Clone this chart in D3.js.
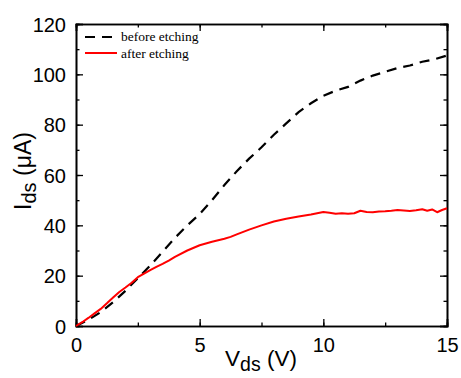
<!DOCTYPE html>
<html><head><meta charset="utf-8">
<script src="https://cdn.jsdelivr.net/npm/d3@7"></script>
<style>body{margin:0;background:#fff}svg{display:block}</style>
</head><body>
<script>
const vBefore = [0,0.5,1,1.5,2,2.5,3,3.5,4,4.5,5,5.5,6,6.5,7,7.5,8,8.5,9,9.5,10,10.5,11,11.5,12,12.5,13,13.5,14,14.5,15];
const iBefore = [0,2.5,5.5,9.5,14,19,24,29.5,35,40,44.5,50,56,61.5,66.5,71,76,80.5,85,88.5,91.5,93.5,95,97.5,99.5,101,102.5,103.5,105,106,107.5];
const vAfter = [0,0.25,0.5,0.75,1,1.25,1.5,1.75,2,2.25,2.5,2.75,3,3.25,3.5,3.75,4,4.5,5,5.5,6,6.25,6.5,7,7.5,8,8.5,9,9.5,10,10.25,10.5,10.75,11,11.25,11.5,11.75,12,12.25,12.5,12.75,13,13.25,13.5,13.75,14,14.2,14.4,14.6,14.8,15];
const iAfter = [0,1.5,3.2,5,6.8,9,11.3,13.5,15.3,17.2,19.4,20.8,22.2,23.5,24.7,26,27.5,30,32.1,33.5,34.7,35.4,36.4,38.3,40,41.5,42.6,43.5,44.3,45.3,45,44.6,44.8,44.6,44.8,45.8,45.3,45.2,45.5,45.6,45.8,46.1,45.9,45.7,46,46.4,45.8,46.3,45.2,46.1,46.8];
const xTicks = [0,5,10,15];
const yTicks = [0,20,40,60,80,100,120];
const legendLabels = ["before etching","after etching"];

const W=461,H=378;
const svg=d3.select("body").append("svg").attr("width",W).attr("height",H);
const x=d3.scaleLinear().domain([0,15]).range([76,447]);
const y=d3.scaleLinear().domain([0,120]).range([326,24]);
const minorX=d3.range(0,15.01,2.5), minorY=d3.range(0,120.1,10);

function axisStyle(g){g.select(".domain").attr("stroke","#000").attr("stroke-width",1.6);g.selectAll(".tick line").attr("stroke","#000").attr("stroke-width",1.3);}

// minor ticks
[[d3.axisBottom(x).tickValues(minorX),326],[d3.axisTop(x).tickValues(minorX),24]].forEach(([a,t])=>{
  svg.append("g").attr("transform",`translate(0,${t})`).call(a.tickSize(-3.5).tickFormat("")).call(axisStyle);
});
[[d3.axisLeft(y).tickValues(minorY),76],[d3.axisRight(y).tickValues(minorY),447]].forEach(([a,t])=>{
  svg.append("g").attr("transform",`translate(${t},0)`).call(a.tickSize(-3.5).tickFormat("")).call(axisStyle);
});
// major ticks
const gx=svg.append("g").attr("transform","translate(0,326)").call(d3.axisBottom(x).tickValues(xTicks).tickSize(-7).tickPadding(12)).call(axisStyle);
svg.append("g").attr("transform","translate(0,24)").call(d3.axisTop(x).tickValues(xTicks).tickSize(-7).tickFormat("")).call(axisStyle);
const gy=svg.append("g").attr("transform","translate(76,0)").call(d3.axisLeft(y).tickValues(yTicks).tickSize(-7).tickPadding(10)).call(axisStyle);
svg.append("g").attr("transform","translate(447,0)").call(d3.axisRight(y).tickValues(yTicks).tickSize(-7).tickFormat("")).call(axisStyle);
svg.selectAll(".tick text").attr("font-family","'Liberation Sans',Arial,sans-serif").attr("font-size",20).attr("fill","#000");
gx.selectAll(".tick text").attr("dy","0.71em");
gy.selectAll(".tick text").attr("dy","0.36em");

// lines
const line=(xs,ys)=>d3.line().x((d,i)=>x(xs[i])).y((d,i)=>y(ys[i]))(xs);
svg.append("path").attr("d",line(vBefore,iBefore)).attr("fill","none").attr("stroke","#000").attr("stroke-width",2.2).attr("stroke-dasharray","10,7");
svg.append("path").attr("d",line(vAfter,iAfter)).attr("fill","none").attr("stroke","#ff0000").attr("stroke-width",2).attr("stroke-linejoin","round");

// legend
const lg=svg.append("g");
lg.append("line").attr("x1",85).attr("x2",117).attr("y1",37).attr("y2",37).attr("stroke","#000").attr("stroke-width",2.2).attr("stroke-dasharray","10,7");
lg.append("line").attr("x1",85).attr("x2",117).attr("y1",53).attr("y2",53).attr("stroke","#ff0000").attr("stroke-width",2);
legendLabels.forEach((t,i)=>lg.append("text").attr("x",121).attr("y",41+i*16.5).attr("font-family","'Liberation Serif','Times New Roman',serif").attr("font-size",13.5).attr("fill","#000").text(t));

// axis titles
const xt=svg.append("text").attr("x",261).attr("y",366).attr("text-anchor","middle").attr("font-family","'Liberation Sans',Arial,sans-serif").attr("font-size",22.5);
xt.append("tspan").text("V");
xt.append("tspan").attr("dy",5).attr("font-size",19.5).text("ds");
xt.append("tspan").attr("dy",-5).text(" (V)");
const yt=svg.append("text").attr("transform","translate(31,171) rotate(-90)").attr("text-anchor","middle").attr("font-family","'Liberation Sans',Arial,sans-serif").attr("font-size",23);
yt.append("tspan").text("I");
yt.append("tspan").attr("dy",5).attr("font-size",20).text("ds");
yt.append("tspan").attr("dy",-5).text(" (μA)");
</script>
</body></html>
